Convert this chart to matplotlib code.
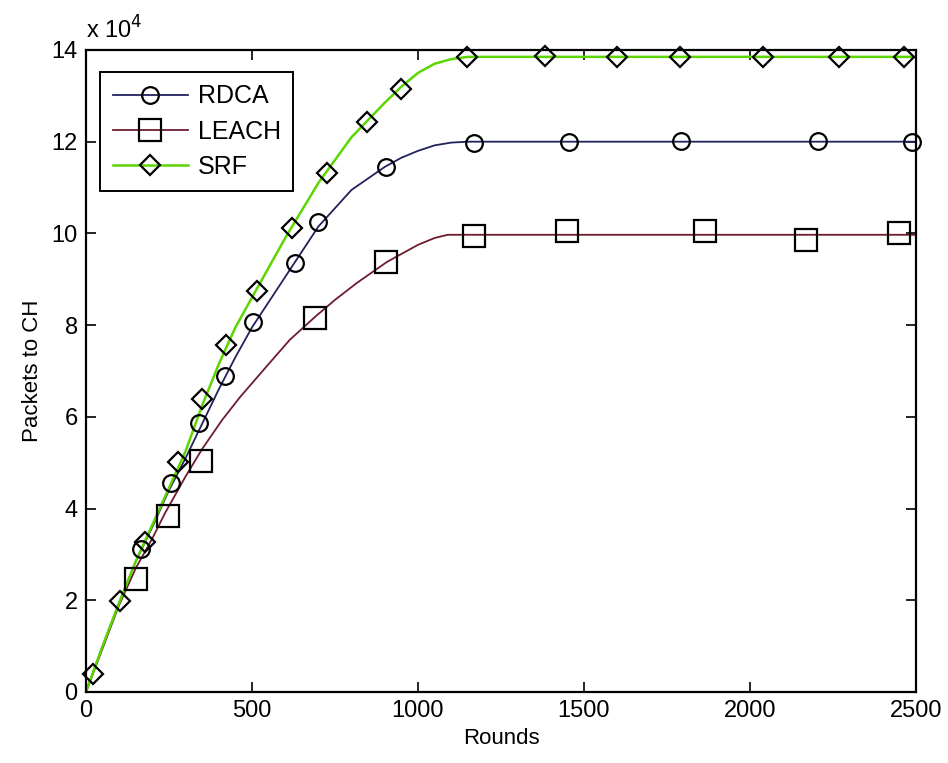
import matplotlib.pyplot as plt
from matplotlib.lines import Line2D
from matplotlib.ticker import MultipleLocator

plt.rcParams['font.family'] = ['Liberation Sans', 'DejaVu Sans']

# curves (units of 1e4 packets)
srf_line_x = [0, 50, 100, 150, 200, 250, 300, 350, 400, 450, 500, 600, 700, 800, 900, 950, 1000, 1050, 1100, 1150, 2500]
srf_line_y = [0.0, 1.0, 1.95, 2.85, 3.65, 4.45, 5.25, 6.25, 7.15, 7.95, 8.6, 9.9, 11.1, 12.1, 12.85, 13.2, 13.5, 13.7, 13.8, 13.85, 13.85]

rdca_line_x = [0, 50, 100, 150, 200, 250, 300, 350, 400, 450, 500, 600, 700, 800, 900, 950, 1000, 1050, 1100, 1150, 2500]
rdca_line_y = [0.0, 1.0, 1.95, 2.85, 3.6, 4.4, 5.1, 5.85, 6.6, 7.3, 7.95, 9.05, 10.15, 10.95, 11.45, 11.65, 11.8, 11.92, 11.98, 12.0, 12.0]

leach_line_x = [0, 50, 100, 150, 200, 238, 300, 350, 410, 464, 550, 614, 690, 750, 816, 907, 1000, 1050, 1090, 2500]
leach_line_y = [0.0, 0.95, 1.9, 2.7, 3.35, 3.9, 4.7, 5.3, 5.93, 6.43, 7.15, 7.68, 8.18, 8.55, 8.92, 9.38, 9.75, 9.9, 9.97, 9.97]

# markers
srf_x = [21, 102, 178, 277, 349, 422, 515, 620, 726, 846, 949, 1148, 1383, 1599, 1789, 2039, 2268, 2464]
srf_y = [0.39, 1.98, 3.27, 5.02, 6.39, 7.57, 8.75, 10.12, 11.32, 12.43, 13.15, 13.85, 13.87, 13.85, 13.85, 13.85, 13.85, 13.85]

rdca_x = [166, 256, 340, 419, 503, 630, 699, 904, 1169, 1455, 1792, 2205, 2488]
rdca_y = [3.12, 4.56, 5.87, 6.89, 8.07, 9.36, 10.25, 11.45, 11.97, 11.99, 12.02, 12.02, 11.99]

leach_x = [151, 247, 346, 690, 904, 1169, 1449, 1864, 2169, 2449]
leach_y = [2.46, 3.84, 5.04, 8.16, 9.38, 9.95, 10.05, 10.05, 9.86, 10.01]

C_RDCA = '#22225e'
C_LEACH = '#6e1c2e'
C_SRF = '#5cd600'

fig = plt.figure(figsize=(9.48, 7.63), dpi=100)
ax = fig.add_axes([0.0907, 0.0931, 0.8755, 0.8414])

ax.plot(rdca_line_x, rdca_line_y, color=C_RDCA, lw=1.3, zorder=2)
ax.plot(leach_line_x, leach_line_y, color=C_LEACH, lw=1.3, zorder=2)
ax.plot(srf_line_x, srf_line_y, color=C_SRF, lw=1.8, zorder=2)

mk = dict(linestyle='none', mfc='none', mec='black', mew=1.6, zorder=3, clip_on=False)
ax.plot(rdca_x, rdca_y, marker='o', ms=12, **mk)
ax.plot(leach_x, leach_y, marker='s', ms=16, **mk)
ax.plot(srf_x, srf_y, marker='D', ms=10, **mk)

ax.set_xlim(0, 2500)
ax.set_ylim(0, 14)
ax.xaxis.set_major_locator(MultipleLocator(500))
ax.yaxis.set_major_locator(MultipleLocator(2))
ax.tick_params(direction='in', top=True, right=True, length=7, width=1.2,
               labelsize=17, pad=6)
for s in ax.spines.values():
    s.set_linewidth(1.6)

ax.text(0.0, 1.01, r'x 10$^{4}$', transform=ax.transAxes, fontsize=17,
        ha='left', va='bottom')
ax.set_xlabel('Rounds', fontsize=16, labelpad=4)
ax.set_ylabel('Packets to CH', fontsize=16, labelpad=6)

handles = [
    Line2D([], [], color=C_RDCA, lw=1.3, marker='o', ms=12, mfc='none', mec='black', mew=1.6),
    Line2D([], [], color=C_LEACH, lw=1.3, marker='s', ms=16, mfc='none', mec='black', mew=1.6),
    Line2D([], [], color=C_SRF, lw=1.8, marker='D', ms=10, mfc='none', mec='black', mew=1.6),
]
leg = ax.legend(handles, ['RDCA', 'LEACH', 'SRF'], loc='upper left',
                bbox_to_anchor=(0.017, 0.966), borderaxespad=0, fontsize=18,
                fancybox=False, framealpha=1, edgecolor='black',
                handlelength=3.0, labelspacing=0.45, borderpad=0.5,
                handletextpad=0.4)
leg.get_frame().set_linewidth(1.4)

fig.savefig('out.png', dpi=100)
